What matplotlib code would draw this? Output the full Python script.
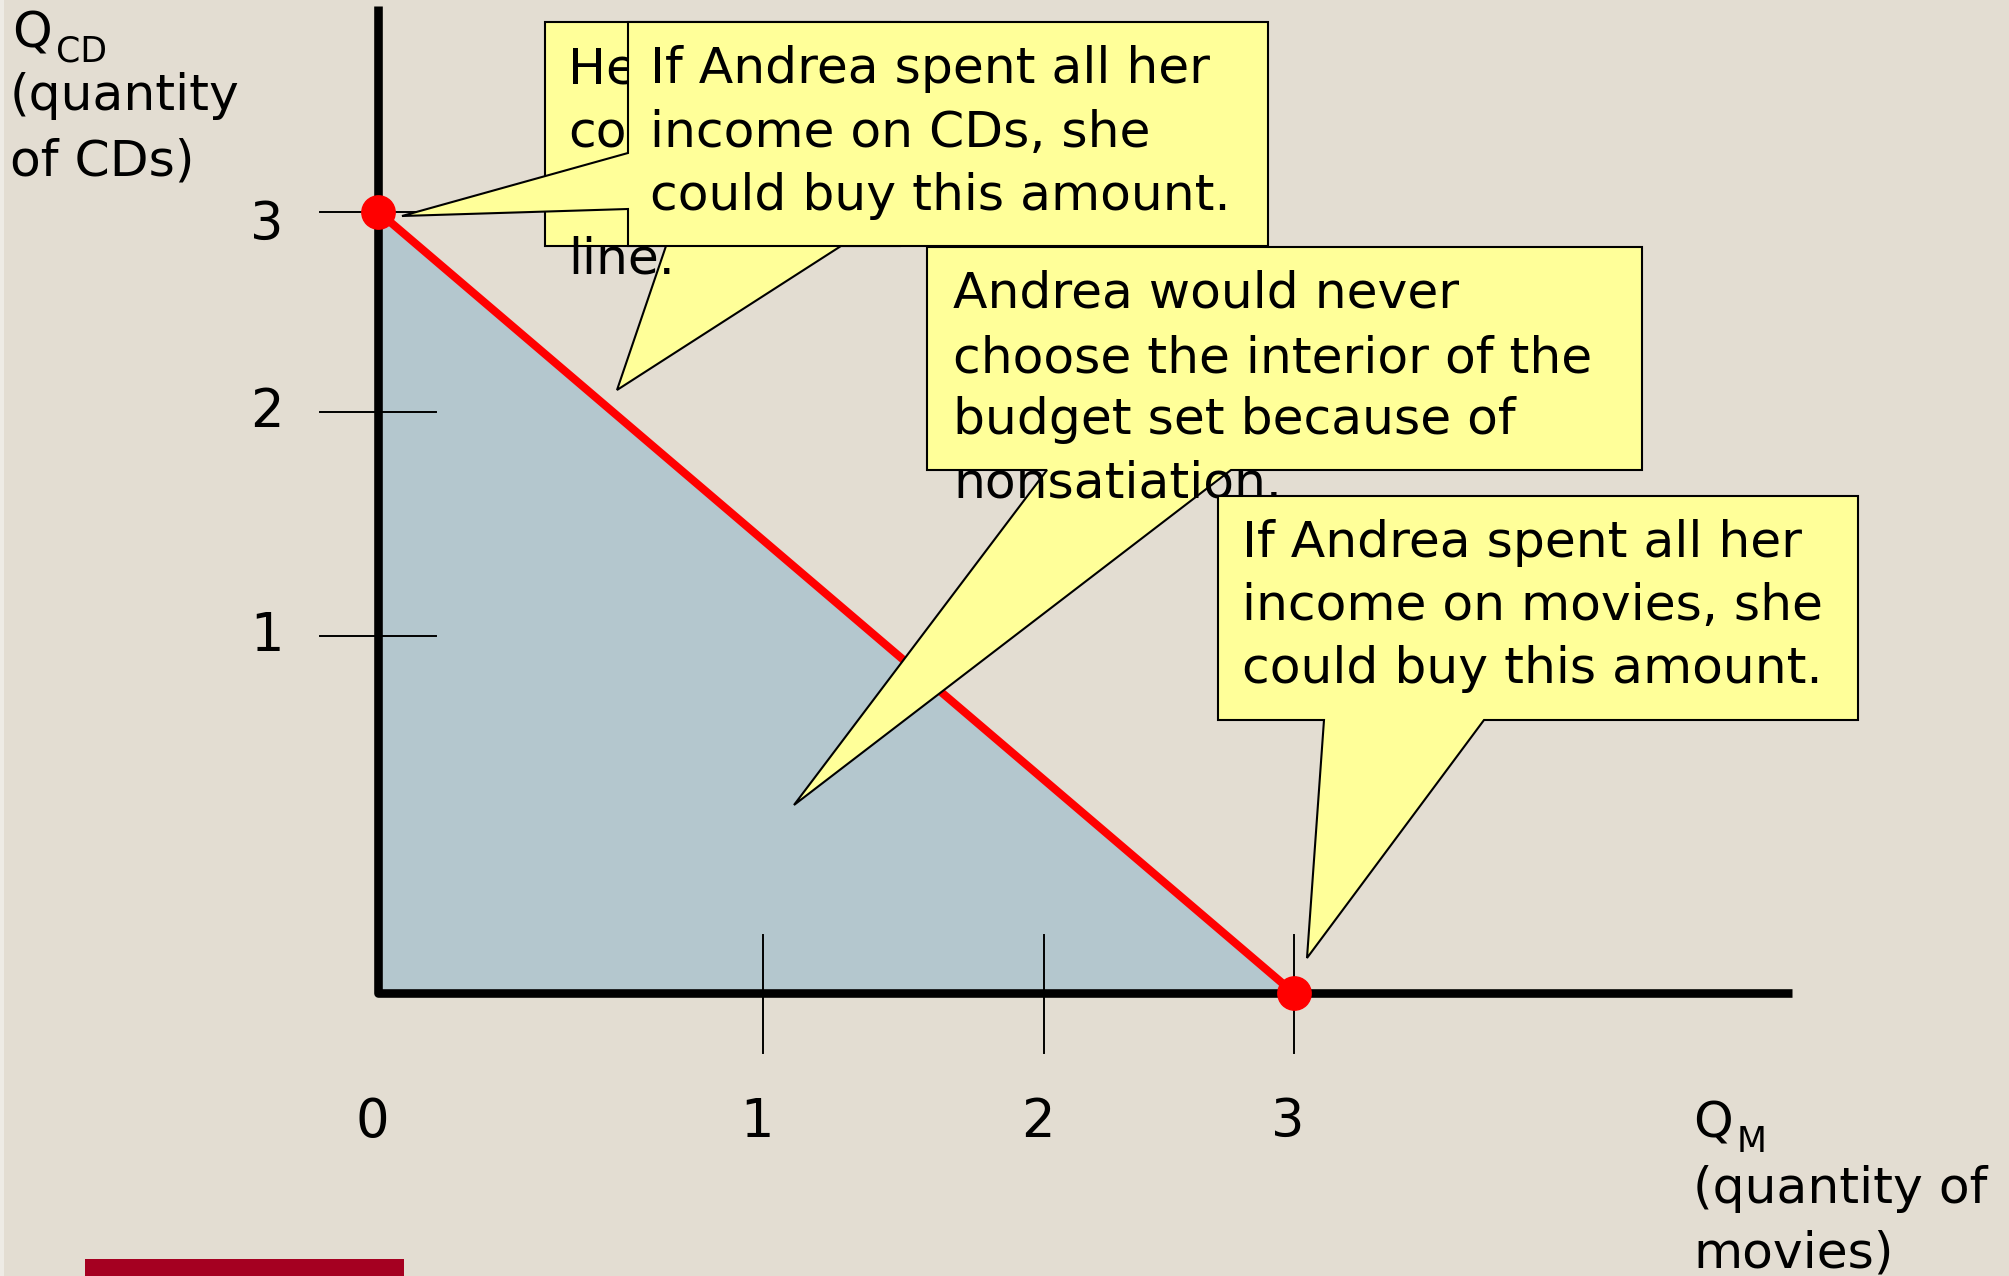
import matplotlib.pyplot as plt
from matplotlib.patches import Polygon, Rectangle

plt.rcParams['font.family'] = ['DejaVu Sans']

W, H = 2009, 1276

# budget line: everything on CDs, or everything on movies
budget_qm = [0, 3]
budget_qcd = [3, 0]

x_tick_labels = ['0', '1', '2', '3']
y_tick_labels = ['1', '2', '3']
# hand-placed tick marks on the slide (not evenly spaced)
x_tick_at = [1.26, 2.18, 3.0]
y_tick_at = [1.37, 2.23, 3.0]
y_label_at = [1.37, 2.23, 2.95]

# the first note sits behind the CDs note; only these bits show
note_line = ['He', 'co', '', 'line.']
note_cds = ['If Andrea spent all her', 'income on CDs, she', 'could buy this amount.']
note_interior = ['Andrea would never', 'choose the interior of the',
                 'budget set because of', 'nonsatiation.']
note_movies = ['If Andrea spent all her', 'income on movies, she',
               'could buy this amount.']

BG = '#E3DDD2'
FILL = '#B4C7CE'
NOTE = '#FFFF99'
FS = 36.3


def fig_pt(x, y):
    # pixel position (top-left origin) -> figure fraction
    return (x / W, 1 - y / H)


def callout(ax, outline, lines, tx, baselines, z):
    poly = Polygon([fig_pt(x, y) for x, y in outline], closed=True,
                   transform=ax.figure.transFigure, facecolor=NOTE,
                   edgecolor='black', lw=1.5, zorder=z, clip_on=False)
    ax.add_patch(poly)
    for s, by in zip(lines, baselines):
        if not s:
            continue
        x, y = fig_pt(tx, by)
        ax.text(x, y, s, transform=ax.figure.transFigure, fontsize=FS,
                va='baseline', ha='left', zorder=z + 0.5, clip_on=False)


fig = plt.figure(figsize=(W / 100, H / 100), dpi=100)
fig.patch.set_facecolor(BG)
ax = fig.add_axes([0, 0, 1, 1])
ax.set_xlim(-1.238, 5.342)
ax.set_ylim(-1.086, 3.812)
ax.axis('off')

# light strip on the left edge and the red footer bar
fig.patches.append(Rectangle((0, 0), 4 / W, 1, transform=fig.transFigure,
                             facecolor='#EEEBE5', lw=0))
fig.patches.append(Rectangle((85 / W, 0), 319 / W, 17 / H, transform=fig.transFigure,
                             facecolor='#A50021', lw=0))

# budget set
ax.fill([0, budget_qm[0], budget_qm[1]], [0, budget_qcd[0], budget_qcd[1]],
        color=FILL, lw=0, zorder=1)

# axes drawn as one thick polyline
ax.plot([0, 0, 4.63], [3.79, 0, 0], color='black', lw=6.2,
        solid_joinstyle='round', solid_capstyle='butt', zorder=2)

for x in x_tick_at:
    ax.plot([x, x], [0.223, -0.23], color='black', lw=1.4, zorder=2)
for y in y_tick_at:
    ax.plot([-0.19, 0.19], [y, y], color='black', lw=1.4, zorder=2)

for lab, x in zip(x_tick_labels, [0] + x_tick_at):
    ax.text(x - 0.02, -0.495, lab, fontsize=38, ha='center', va='center')
for lab, y in zip(y_tick_labels, y_label_at):
    ax.text(-0.31, y, lab, fontsize=38, ha='right', va='center')

ax.plot(budget_qm, budget_qcd, color='red', lw=5.8, solid_capstyle='butt', zorder=3)

# axis titles
ax.text(*fig_pt(12, 48), 'Q', transform=fig.transFigure, fontsize=FS, va='baseline')
ax.text(*fig_pt(56, 62), 'CD', transform=fig.transFigure, fontsize=25, va='baseline')
ax.text(*fig_pt(10, 110), '(quantity', transform=fig.transFigure, fontsize=FS, va='baseline')
ax.text(*fig_pt(10, 175), 'of CDs)', transform=fig.transFigure, fontsize=FS, va='baseline')

ax.text(*fig_pt(1693, 1138), 'Q', transform=fig.transFigure, fontsize=FS, va='baseline')
ax.text(*fig_pt(1737, 1152), 'M', transform=fig.transFigure, fontsize=25, va='baseline')
ax.text(*fig_pt(1693, 1203), '(quantity of', transform=fig.transFigure, fontsize=FS, va='baseline')
ax.text(*fig_pt(1693, 1267), 'movies)', transform=fig.transFigure, fontsize=FS, va='baseline')

# callouts, back to front
callout(ax, [(545, 22), (900, 22), (900, 246), (841, 246), (617, 390),
             (666, 246), (545, 246)],
        note_line, 568, [83, 147, 210, 273], 5)
callout(ax, [(628, 22), (1268, 22), (1268, 246), (628, 246), (628, 209),
             (402, 216), (628, 153)],
        note_cds, 650, [83, 147, 210], 7)
callout(ax, [(927, 247), (1642, 247), (1642, 470), (1231, 470), (794, 805),
             (1047, 470), (927, 470)],
        note_interior, 953, [308, 372, 434, 497], 9)
callout(ax, [(1218, 496), (1858, 496), (1858, 720), (1484, 720), (1307, 958),
             (1324, 720), (1218, 720)],
        note_movies, 1242, [557, 620, 683], 11)

ax.plot(budget_qm, budget_qcd, 'o', ms=24, color='red', zorder=20)

fig.savefig('out.png', dpi=100, facecolor=fig.get_facecolor())
